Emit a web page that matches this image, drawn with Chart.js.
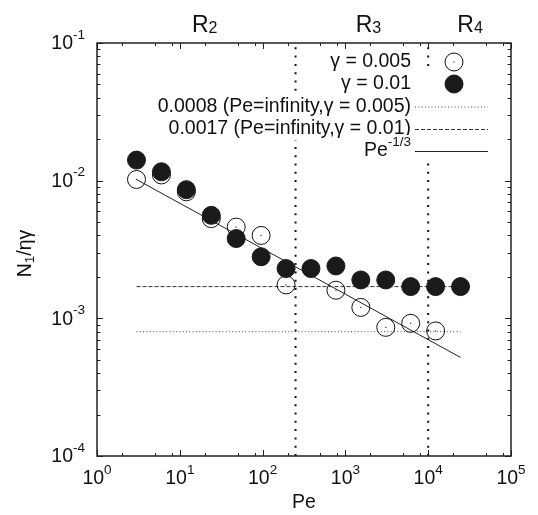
<!DOCTYPE html>
<html>
<head>
<meta charset="utf-8">
<script src="https://cdn.jsdelivr.net/npm/chart.js@4/dist/chart.umd.min.js"></script>
<style>
  html, body { margin: 0; padding: 0; background: #fff; }
  canvas { display: block; }
</style>
</head>
<body>
<canvas id="chart" width="538" height="515"></canvas>
<script>
// Peclet numbers of the runs (each one twice the previous)
const pe01 = [3, 6, 12, 24, 48, 96, 192, 384, 768, 1536, 3072, 6144, 12288, 24576];
const n1_01 = [0.0141, 0.0116, 0.0086, 0.0056, 0.0038, 0.0028, 0.0023, 0.0023, 0.0024, 0.0019, 0.0019, 0.0017, 0.0017, 0.0017];
const pe005 = [3, 6, 12, 24, 48, 96, 192, 768, 1536, 3072, 6144, 12288];
const n1_005 = [0.0102, 0.0110, 0.0083, 0.0053, 0.0046, 0.0040, 0.00175, 0.0016, 0.0012, 0.00086, 0.00092, 0.00081];

// high Pe limits and the power law guide
const limit005 = 0.0008;
const limit01 = 0.0017;
const limitPe = [3, 24576];
const slopePe = [3, 24576];
const slopeN1 = [0.0102, 0.00052];

// regime boundaries and labels
const regimeBounds = [250, 10000];
const regimeNames = ['2', '3', '4'];
const regimeCentres = [20, 1900, 32000];

const xDecades = [0, 1, 2, 3, 4, 5];
const yDecades = [-4, -3, -2, -1];
const xMinor = [2, 5, 8];
const yMinor = [2, 3, 4, 5, 6, 7, 8, 9];

const FONT = '"Liberation Sans", Arial, Helvetica, sans-serif';
const BIG = '19.5px ' + FONT;
const SMALL = '13.5px ' + FONT;
const INK = '#1a1a1a';

const pts = (xs, ys) => xs.map((x, i) => ({ x: x, y: ys[i] }));

const datasets = [
  {
    label: 'γ = 0.01', data: pts(pe01, n1_01), order: 1,
    pointRadius: 9, pointBorderWidth: 1, pointBorderColor: INK, pointBackgroundColor: INK
  },
  {
    label: 'γ = 0.005', data: pts(pe005, n1_005), order: 2,
    pointRadius: 9, pointBorderWidth: 1, pointBorderColor: '#111', pointBackgroundColor: 'rgba(0,0,0,0)'
  },
  {
    label: limit005 + ' (Pe=infinity,γ = 0.005)', data: limitPe.map(x => ({ x: x, y: limit005 })), order: 3,
    showLine: true, pointRadius: 0, borderColor: '#444', borderWidth: 1, borderDash: [1, 2.3]
  },
  {
    label: limit01 + ' (Pe=infinity,γ = 0.01)', data: limitPe.map(x => ({ x: x, y: limit01 })), order: 4,
    showLine: true, pointRadius: 0, borderColor: '#333', borderWidth: 1, borderDash: [4, 2]
  },
  {
    label: 'Pe^-1/3', data: pts(slopePe, slopeN1), order: 5,
    showLine: true, pointRadius: 0, borderColor: '#222', borderWidth: 1
  }
];

regimeBounds.forEach(b => {
  datasets.push({
    label: '', data: [{ x: b, y: 1e-4 }, { x: b, y: 0.1 }], order: 6,
    showLine: true, pointRadius: 0, borderColor: '#111', borderWidth: 2, borderDash: [2, 6.3]
  });
});

// "10" with a raised exponent
function drawPow(ctx, exp, x, y, align) {
  ctx.font = BIG;
  const wb = ctx.measureText('10').width;
  ctx.font = SMALL;
  const we = ctx.measureText(exp).width;
  const total = wb + we;
  const left = align === 'center' ? x - total / 2 : x - total;
  ctx.textAlign = 'left';
  ctx.textBaseline = 'middle';
  ctx.font = BIG;
  ctx.fillText('10', left, y);
  ctx.font = SMALL;
  ctx.fillText(exp, left + wb, y - 9);
}

const frame = {
  id: 'frame',
  afterDatasetsDraw(chart) {
    const ctx = chart.ctx;
    const a = chart.chartArea;
    const xs = chart.scales.x, ys = chart.scales.y;

    // little centre dot of the open markers
    ctx.save();
    ctx.fillStyle = '#333';
    chart.getDatasetMeta(1).data.forEach(p => ctx.fillRect(p.x - 0.6, p.y - 0.6, 1.2, 1.2));
    ctx.restore();

    // key
    ctx.save();
    const rows = [62, 84, 106.5, 129, 151];
    const textRight = 411, s0 = 415, s1 = 488, sym = 454;
    ctx.fillStyle = '#fff';
    ctx.fillRect(s0 - 2, rows[1] - 12, s1 - s0 + 4, rows[4] - rows[1] + 24);
    const order = [1, 0, 2, 3, 4];
    order.forEach((di, r) => {
      const ds = datasets[di];
      const y = rows[r];
      ctx.textBaseline = 'middle';
      ctx.textAlign = 'right';
      if (di === 4) {
        ctx.font = SMALL;
        const we = ctx.measureText('-1/3').width;
        ctx.font = BIG;
        const wb = ctx.measureText('Pe').width;
        ctx.fillStyle = '#fff';
        ctx.fillRect(textRight - we - wb - 2, y - 16, we + wb + 4, 28);
        ctx.fillStyle = '#111';
        ctx.fillText('Pe', textRight - we, y);
        ctx.font = SMALL;
        ctx.fillText('-1/3', textRight, y - 9);
      } else {
        ctx.font = BIG;
        const w = ctx.measureText(ds.label).width;
        ctx.fillStyle = '#fff';
        ctx.fillRect(textRight - w - 2, y - 11, w + 4, 22);
        ctx.fillStyle = '#111';
        ctx.fillText(ds.label, textRight, y);
      }
      if (ds.showLine) {
        ctx.strokeStyle = ds.borderColor;
        ctx.lineWidth = ds.borderWidth;
        ctx.setLineDash(ds.borderDash || []);
        ctx.beginPath();
        ctx.moveTo(s0, y + 0.5);
        ctx.lineTo(s1, y + 0.5);
        ctx.stroke();
        ctx.setLineDash([]);
      } else {
        ctx.beginPath();
        ctx.arc(sym, y, ds.pointRadius, 0, Math.PI * 2);
        ctx.fillStyle = ds.pointBackgroundColor;
        ctx.fill();
        ctx.lineWidth = ds.pointBorderWidth;
        ctx.strokeStyle = ds.pointBorderColor;
        ctx.stroke();
        if (di === 1) {
          ctx.fillStyle = '#333';
          ctx.fillRect(sym - 0.6, y - 0.6, 1.2, 1.2);
        }
      }
    });
    ctx.restore();

    // ticks on all four sides
    ctx.save();
    ctx.strokeStyle = '#222';
    ctx.lineWidth = 1;
    ctx.beginPath();
    xDecades.forEach(d => {
      const marks = [[Math.pow(10, d), 6]];
      if (d < xDecades[xDecades.length - 1]) xMinor.forEach(m => marks.push([m * Math.pow(10, d), 3]));
      marks.forEach(([v, len]) => {
        const px = Math.round(xs.getPixelForValue(v)) + 0.5;
        ctx.moveTo(px, a.bottom); ctx.lineTo(px, a.bottom - len);
        ctx.moveTo(px, a.top); ctx.lineTo(px, a.top + len);
      });
    });
    yDecades.forEach(d => {
      const marks = [[Math.pow(10, d), 6]];
      if (d < yDecades[yDecades.length - 1]) yMinor.forEach(m => marks.push([m * Math.pow(10, d), 3.5]));
      marks.forEach(([v, len]) => {
        const py = Math.round(ys.getPixelForValue(v)) + 0.5;
        ctx.moveTo(a.left, py); ctx.lineTo(a.left + len, py);
        ctx.moveTo(a.right, py); ctx.lineTo(a.right - len, py);
      });
    });
    ctx.stroke();

    ctx.lineWidth = 1.5;
    ctx.strokeRect(a.left, a.top, a.right - a.left, a.bottom - a.top);

    // tick labels
    ctx.fillStyle = '#111';
    xDecades.forEach(d => drawPow(ctx, String(d), xs.getPixelForValue(Math.pow(10, d)), a.bottom + 23, 'center'));
    yDecades.forEach(d => drawPow(ctx, String(d), a.left - 12, ys.getPixelForValue(Math.pow(10, d)) + 1, 'right'));

    // axis titles
    ctx.font = BIG;
    ctx.textAlign = 'center';
    ctx.textBaseline = 'middle';
    ctx.fillText('Pe', (a.left + a.right) / 2, 503);

    ctx.save();
    ctx.translate(26, (a.top + a.bottom) / 2 + 4);
    ctx.rotate(-Math.PI / 2);
    ctx.font = BIG;
    const wN = ctx.measureText('N').width, wR = ctx.measureText('/ηγ').width;
    ctx.font = SMALL;
    const w1 = ctx.measureText('1').width;
    let cx = -(wN + w1 + wR) / 2;
    ctx.textAlign = 'left';
    ctx.font = BIG;
    ctx.fillText('N', cx, 0);
    ctx.font = SMALL;
    ctx.fillText('1', cx + wN, 4);
    ctx.font = BIG;
    ctx.fillText('/ηγ', cx + wN + w1, 0);
    ctx.restore();

    // regime labels above the frame
    ctx.textBaseline = 'alphabetic';
    regimeNames.forEach((n, i) => {
      ctx.font = '23px ' + FONT;
      const wr = ctx.measureText('R').width;
      ctx.font = '16px ' + FONT;
      const wn = ctx.measureText(n).width;
      const left = xs.getPixelForValue(regimeCentres[i]) - (wr + wn) / 2;
      ctx.textAlign = 'left';
      ctx.font = '23px ' + FONT;
      ctx.fillText('R', left, 32);
      ctx.font = '16px ' + FONT;
      ctx.fillText(n, left + wr, 33);
    });
    ctx.restore();
  }
};

new Chart(document.getElementById('chart'), {
  type: 'scatter',
  data: { datasets: datasets },
  options: {
    responsive: false,
    animation: false,
    devicePixelRatio: 1,
    layout: { padding: { left: 97, top: 43, right: 27, bottom: 59 } },
    scales: {
      x: { type: 'logarithmic', min: 1, max: 1e5, display: false },
      y: { type: 'logarithmic', min: 1e-4, max: 0.1, display: false }
    },
    plugins: {
      legend: { display: false },
      tooltip: { enabled: false }
    }
  },
  plugins: [frame]
});
</script>
</body>
</html>
